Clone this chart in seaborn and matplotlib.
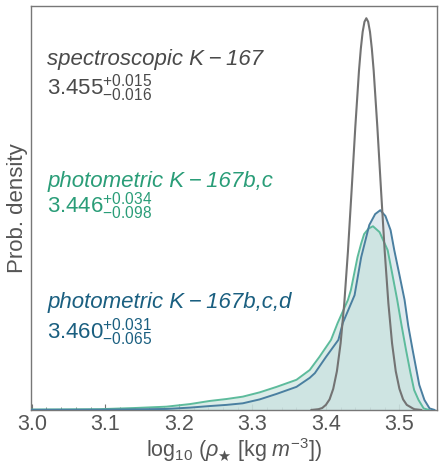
import numpy as np
import pandas as pd
import matplotlib
matplotlib.use("Agg")
import matplotlib.pyplot as plt
import seaborn as sns
from matplotlib.ticker import MultipleLocator

# ---- data (x = log10 rho, d = relative prob. density) ----
spec_x = [3.380, 3.390, 3.395, 3.400, 3.405, 3.410, 3.415, 3.420, 3.425, 3.430,
          3.435, 3.440, 3.445, 3.4475, 3.450, 3.4525, 3.455, 3.4575, 3.460, 3.4625,
          3.465, 3.470, 3.475, 3.480,
          3.485, 3.490, 3.495, 3.500, 3.505, 3.510, 3.520, 3.530]
spec_d = [0.000, 0.002, 0.005, 0.013, 0.027, 0.054, 0.099, 0.170, 0.272, 0.405,
          0.561, 0.722, 0.866, 0.922, 0.965, 0.991, 1.000, 0.991, 0.965, 0.922,
          0.866, 0.722, 0.561, 0.405,
          0.272, 0.170, 0.099, 0.054, 0.027, 0.013, 0.002, 0.000]

bc_x = [3.000, 3.050, 3.092, 3.140, 3.183, 3.215, 3.242, 3.265, 3.287, 3.310,
        3.333, 3.360, 3.378, 3.391, 3.407, 3.416, 3.430, 3.434, 3.443, 3.448,
        3.452, 3.458, 3.464, 3.473, 3.484, 3.490, 3.497, 3.503, 3.509, 3.515,
        3.520, 3.526, 3.533, 3.540]
bc_d = [0.001, 0.0015, 0.002, 0.005, 0.0084, 0.015, 0.023, 0.028, 0.034, 0.045,
        0.059, 0.077, 0.102, 0.135, 0.179, 0.222, 0.281, 0.306, 0.390, 0.425,
        0.449, 0.463, 0.469, 0.454, 0.408, 0.350, 0.281, 0.215, 0.153, 0.095,
        0.051, 0.0255, 0.004, 0.000]

bcd_x = [3.000, 3.050, 3.092, 3.140, 3.183, 3.215, 3.242, 3.265, 3.287, 3.310,
         3.333, 3.360, 3.378, 3.385, 3.400, 3.417, 3.423, 3.439, 3.448, 3.459,
         3.467, 3.474, 3.481, 3.488, 3.493, 3.500, 3.507, 3.512, 3.518, 3.527,
         3.534, 3.541, 3.548]
bcd_d = [0.0005, 0.0006, 0.0008, 0.0015, 0.0026, 0.006, 0.010, 0.013, 0.017, 0.027,
         0.041, 0.059, 0.082, 0.094, 0.135, 0.179, 0.222, 0.293, 0.390, 0.472,
         0.500, 0.510, 0.495, 0.459, 0.408, 0.345, 0.281, 0.215, 0.153, 0.064,
         0.0255, 0.004, 0.000]

labels = ["spectroscopic K\u2009\u2212\u2009167",
          "photometric K\u2009\u2212\u2009167b,c",
          "photometric K\u2009\u2212\u2009167b,c,d"]
values = [r"$3.455^{+0.015}_{-0.016}$",
          r"$3.446^{+0.034}_{-0.098}$",
          r"$3.460^{+0.031}_{-0.065}$"]
xticks = [3.0, 3.1, 3.2, 3.3, 3.4, 3.5]

# ---- style ----
sns.set_style("white")
plt.rcParams["font.family"] = ["Liberation Sans", "DejaVu Sans"]
plt.rcParams["mathtext.fontset"] = "custom"
plt.rcParams["mathtext.rm"] = "Liberation Sans"
plt.rcParams["mathtext.it"] = "Liberation Sans:italic"
plt.rcParams["mathtext.bf"] = "Liberation Sans:bold"
plt.rcParams["mathtext.fallback"] = "stix"

c_grey = "#737373"
c_green = "#5dbb9c"
c_green_txt = "#2a9d78"
c_blue = "#4a7fa0"
c_blue_txt = "#1a5f80"
c_txt = "#555555"

fig = plt.figure(figsize=(4.40, 4.68), dpi=100)
ax = fig.add_axes([0.0705, 0.124, 0.9225, 0.863])

df_spec = pd.DataFrame({"x": spec_x, "d": spec_d})
df_bc = pd.DataFrame({"x": bc_x, "d": bc_d})
df_bcd = pd.DataFrame({"x": bcd_x, "d": bcd_d})

ax.fill_between(df_bcd["x"], df_bcd["d"], color="#d6e4ea", alpha=0.75, lw=0, zorder=1)
ax.fill_between(df_bc["x"], df_bc["d"], color="#c3e0da", alpha=0.6, lw=0, zorder=1)

sns.lineplot(data=df_bc, x="x", y="d", ax=ax, color=c_green, lw=1.4, sort=False, zorder=3)
sns.lineplot(data=df_bcd, x="x", y="d", ax=ax, color=c_blue, lw=1.4, sort=False, zorder=3)
sns.lineplot(data=df_spec, x="x", y="d", ax=ax, color=c_grey, lw=1.5, sort=False, zorder=4)

ax.set_xlim(2.999, 3.551)
ax.set_ylim(0, 1.031)
ax.set_xticks(xticks)
ax.set_xticklabels([f"{t:.1f}" for t in xticks])
ax.xaxis.set_minor_locator(MultipleLocator(0.02))
ax.set_yticks([])
ax.tick_params(axis="x", which="major", direction="in", length=4, width=0.8,
               colors=c_grey, labelcolor=c_txt, labelsize=15.5, pad=3, bottom=True)
ax.tick_params(axis="x", which="minor", direction="in", length=2.5, width=0.6,
               colors=c_grey, bottom=True)
for s in ax.spines.values():
    s.set_color("#777777")
    s.set_linewidth(1.0)

ax.set_ylabel("Prob. density", fontsize=16, color=c_txt, labelpad=2)
ax.set_xlabel(r"$\log_{10}\,(\rho_{\bigstar}\ [\mathrm{kg}\ m^{-3}])$",
              fontsize=15.5, color=c_txt, labelpad=1)

tx = 3.021
fs = 16
ax.text(tx, 0.880, labels[0], fontsize=fs, style="italic", color="#4a4a4a", va="baseline")
ax.text(tx, 0.805, values[0], fontsize=fs, color="#4a4a4a", va="baseline")
ax.text(tx, 0.570, labels[1], fontsize=fs, style="italic", color=c_green_txt, va="baseline")
ax.text(tx, 0.503, values[1], fontsize=fs, color=c_green_txt, va="baseline")
ax.text(tx, 0.260, labels[2], fontsize=fs, style="italic", color=c_blue_txt, va="baseline")
ax.text(tx, 0.183, values[2], fontsize=fs, color=c_blue_txt, va="baseline")

fig.savefig("out.png", dpi=100)
